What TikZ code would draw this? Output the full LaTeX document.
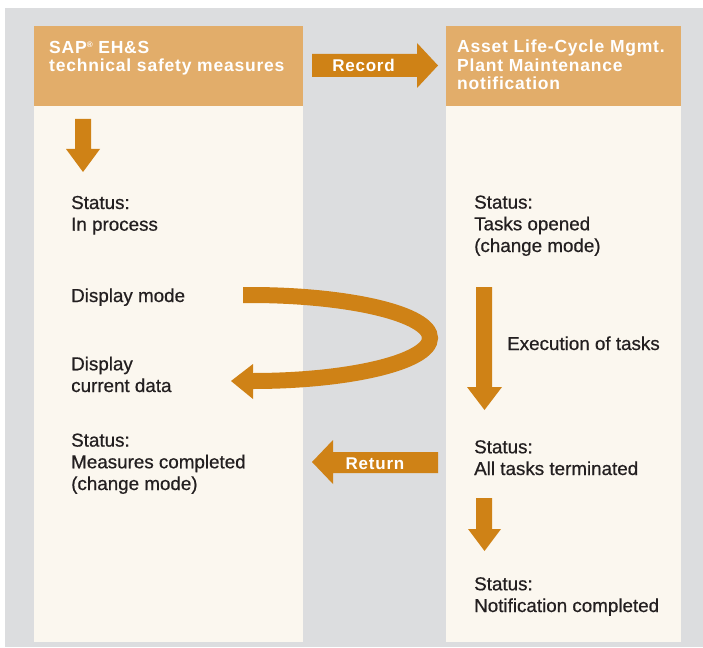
\documentclass[tikz,border=0pt]{standalone}
\usepackage{fontspec}
\setmainfont{Liberation Sans}
\newfontfamily\hdfont{Liberation Sans}[LetterSpace=4.5]
\newfontfamily\bodyfont{Liberation Sans}[FakeBold=0.6]
\definecolor{bg}{HTML}{DCDDDF}
\definecolor{cream}{HTML}{FBF7EF}
\definecolor{tan}{HTML}{E2AD6A}
\definecolor{arr}{HTML}{CF8216}
\definecolor{txt}{HTML}{231F20}
\begin{document}
\begin{tikzpicture}[x=1pt,y=-1pt,
  body/.style={anchor=base west, inner sep=0pt, align=left, text=txt, font=\bodyfont\fontsize{18.8}{21.7}\selectfont},
  head/.style={anchor=base west, inner sep=0pt, align=left, text=white, font=\hdfont\bfseries\fontsize{17.5}{18.7}\selectfont},
  albl/.style={anchor=base, inner sep=0pt, text=white, font=\hdfont\bfseries\fontsize{17}{17}\selectfont},
  blk/.style={fill=arr}]
\useasboundingbox (0,0) rectangle (703,647);
\fill[white] (0,0) rectangle (703,647);
\fill[bg] (5,8) rectangle (703,647);
% panels
\fill[cream] (34,26) rectangle (303,642);
\fill[tan] (34,26) rectangle (303,106);
\fill[cream] (446,26) rectangle (681,642);
\fill[tan] (446,26) rectangle (681,106);
% headers (anchor = baseline of last line)
\node[head] (h1) at (49,72) {SAP{\fontsize{8}{8}\selectfont\raisebox{6pt}{®}} EH\&S\\technical safety measures};
\node[head] (h2) at (457,90) {Asset Life-Cycle Mgmt.\\Plant Maintenance\\notification};
% Record arrow
\fill[blk] (312,54) -- (417,54) -- (417,43) -- (438,65.5) -- (417,88) -- (417,77) -- (312,77) -- cycle;
\node[albl] (rec) at (363.5,72) {Record};
% Return arrow
\fill[blk] (438,452) -- (333,452) -- (333,440) -- (312,462) -- (333,484) -- (333,473) -- (438,473) -- cycle;
\node[albl] (ret) at (375,469) {Return};
% down arrows
\fill[blk] (75,119) -- (91,119) -- (91,149) -- (100,149) -- (83,172) -- (66,149) -- (75,149) -- cycle;
\fill[blk] (476,287) -- (492,287) -- (492,387) -- (502,387) -- (484.5,410) -- (467,387) -- (476,387) -- cycle;
\fill[blk] (476,498) -- (492,498) -- (492,529) -- (501,529) -- (484.5,551) -- (468,529) -- (476,529) -- cycle;
% curved arrow
\coordinate (cs) at (243,295);
\coordinate (ce) at (253,381);
\draw[arr, line width=16pt] (cs) -- (250,295) .. controls (349,295) and (430,314) .. (430,338) .. controls (430,362) and (349,381) .. (ce);
\fill[blk] (253,364) -- (231,381) -- (253,399) -- cycle;
% left texts (anchor = baseline of last line)
\node[body] (l1) at (71,230.7) {Status:\\In process};
\node[body] (l2) at (71,302) {Display mode};
\node[body] (l3) at (71,392) {Display\\current data};
\node[body] (l4) at (71,490) {Status:\\Measures completed\\(change mode)};
% right texts
\node[body] (r1) at (474,252) {Status:\\Tasks opened\\(change mode)};
\node[body] (r2) at (507,350) {Execution of tasks};
\node[body] (r3) at (474,475) {Status:\\All tasks terminated};
\node[body] (r4) at (474,612) {Status:\\Notification completed};
\end{tikzpicture}
\end{document}
